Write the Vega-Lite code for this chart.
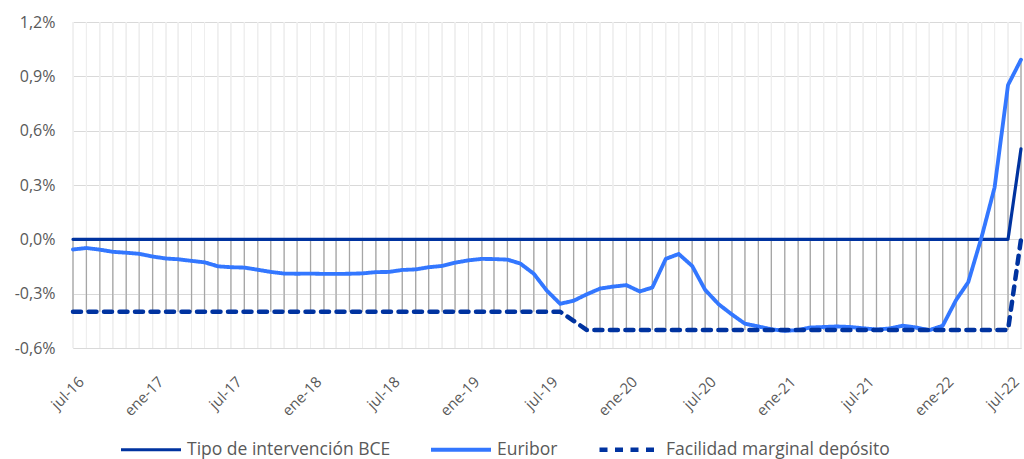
{
  "$schema": "https://vega.github.io/schema/vega-lite/v6.json",
  "width": 948,
  "height": 326,
  "autosize": {"type": "none"},
  "padding": {"left": 73, "top": 22, "right": 3, "bottom": 111},
  "background": "white",
  "config": {"view": {"stroke": null}, "font": "Open Sans"},
  "data": {
    "values": [
      {"fecha": "2016-07-01", "Tipo de intervención BCE": 0, "Euribor": -0.056, "Facilidad marginal depósito": -0.4},
      {"fecha": "2016-08-01", "Tipo de intervención BCE": 0, "Euribor": -0.048, "Facilidad marginal depósito": -0.4},
      {"fecha": "2016-09-01", "Tipo de intervención BCE": 0, "Euribor": -0.057, "Facilidad marginal depósito": -0.4},
      {"fecha": "2016-10-01", "Tipo de intervención BCE": 0, "Euribor": -0.069, "Facilidad marginal depósito": -0.4},
      {"fecha": "2016-11-01", "Tipo de intervención BCE": 0, "Euribor": -0.074, "Facilidad marginal depósito": -0.4},
      {"fecha": "2016-12-01", "Tipo de intervención BCE": 0, "Euribor": -0.080, "Facilidad marginal depósito": -0.4},
      {"fecha": "2017-01-01", "Tipo de intervención BCE": 0, "Euribor": -0.095, "Facilidad marginal depósito": -0.4},
      {"fecha": "2017-02-01", "Tipo de intervención BCE": 0, "Euribor": -0.106, "Facilidad marginal depósito": -0.4},
      {"fecha": "2017-03-01", "Tipo de intervención BCE": 0, "Euribor": -0.110, "Facilidad marginal depósito": -0.4},
      {"fecha": "2017-04-01", "Tipo de intervención BCE": 0, "Euribor": -0.119, "Facilidad marginal depósito": -0.4},
      {"fecha": "2017-05-01", "Tipo de intervención BCE": 0, "Euribor": -0.127, "Facilidad marginal depósito": -0.4},
      {"fecha": "2017-06-01", "Tipo de intervención BCE": 0, "Euribor": -0.149, "Facilidad marginal depósito": -0.4},
      {"fecha": "2017-07-01", "Tipo de intervención BCE": 0, "Euribor": -0.154, "Facilidad marginal depósito": -0.4},
      {"fecha": "2017-08-01", "Tipo de intervención BCE": 0, "Euribor": -0.156, "Facilidad marginal depósito": -0.4},
      {"fecha": "2017-09-01", "Tipo de intervención BCE": 0, "Euribor": -0.168, "Facilidad marginal depósito": -0.4},
      {"fecha": "2017-10-01", "Tipo de intervención BCE": 0, "Euribor": -0.180, "Facilidad marginal depósito": -0.4},
      {"fecha": "2017-11-01", "Tipo de intervención BCE": 0, "Euribor": -0.189, "Facilidad marginal depósito": -0.4},
      {"fecha": "2017-12-01", "Tipo de intervención BCE": 0, "Euribor": -0.190, "Facilidad marginal depósito": -0.4},
      {"fecha": "2018-01-01", "Tipo de intervención BCE": 0, "Euribor": -0.189, "Facilidad marginal depósito": -0.4},
      {"fecha": "2018-02-01", "Tipo de intervención BCE": 0, "Euribor": -0.191, "Facilidad marginal depósito": -0.4},
      {"fecha": "2018-03-01", "Tipo de intervención BCE": 0, "Euribor": -0.191, "Facilidad marginal depósito": -0.4},
      {"fecha": "2018-04-01", "Tipo de intervención BCE": 0, "Euribor": -0.190, "Facilidad marginal depósito": -0.4},
      {"fecha": "2018-05-01", "Tipo de intervención BCE": 0, "Euribor": -0.188, "Facilidad marginal depósito": -0.4},
      {"fecha": "2018-06-01", "Tipo de intervención BCE": 0, "Euribor": -0.181, "Facilidad marginal depósito": -0.4},
      {"fecha": "2018-07-01", "Tipo de intervención BCE": 0, "Euribor": -0.180, "Facilidad marginal depósito": -0.4},
      {"fecha": "2018-08-01", "Tipo de intervención BCE": 0, "Euribor": -0.169, "Facilidad marginal depósito": -0.4},
      {"fecha": "2018-09-01", "Tipo de intervención BCE": 0, "Euribor": -0.166, "Facilidad marginal depósito": -0.4},
      {"fecha": "2018-10-01", "Tipo de intervención BCE": 0, "Euribor": -0.154, "Facilidad marginal depósito": -0.4},
      {"fecha": "2018-11-01", "Tipo de intervención BCE": 0, "Euribor": -0.147, "Facilidad marginal depósito": -0.4},
      {"fecha": "2018-12-01", "Tipo de intervención BCE": 0, "Euribor": -0.129, "Facilidad marginal depósito": -0.4},
      {"fecha": "2019-01-01", "Tipo de intervención BCE": 0, "Euribor": -0.116, "Facilidad marginal depósito": -0.4},
      {"fecha": "2019-02-01", "Tipo de intervención BCE": 0, "Euribor": -0.108, "Facilidad marginal depósito": -0.4},
      {"fecha": "2019-03-01", "Tipo de intervención BCE": 0, "Euribor": -0.109, "Facilidad marginal depósito": -0.4},
      {"fecha": "2019-04-01", "Tipo de intervención BCE": 0, "Euribor": -0.112, "Facilidad marginal depósito": -0.4},
      {"fecha": "2019-05-01", "Tipo de intervención BCE": 0, "Euribor": -0.134, "Facilidad marginal depósito": -0.4},
      {"fecha": "2019-06-01", "Tipo de intervención BCE": 0, "Euribor": -0.190, "Facilidad marginal depósito": -0.4},
      {"fecha": "2019-07-01", "Tipo de intervención BCE": 0, "Euribor": -0.283, "Facilidad marginal depósito": -0.4},
      {"fecha": "2019-08-01", "Tipo de intervención BCE": 0, "Euribor": -0.356, "Facilidad marginal depósito": -0.4},
      {"fecha": "2019-09-01", "Tipo de intervención BCE": 0, "Euribor": -0.339, "Facilidad marginal depósito": -0.45},
      {"fecha": "2019-10-01", "Tipo de intervención BCE": 0, "Euribor": -0.304, "Facilidad marginal depósito": -0.5},
      {"fecha": "2019-11-01", "Tipo de intervención BCE": 0, "Euribor": -0.272, "Facilidad marginal depósito": -0.5},
      {"fecha": "2019-12-01", "Tipo de intervención BCE": 0, "Euribor": -0.261, "Facilidad marginal depósito": -0.5},
      {"fecha": "2020-01-01", "Tipo de intervención BCE": 0, "Euribor": -0.253, "Facilidad marginal depósito": -0.5},
      {"fecha": "2020-02-01", "Tipo de intervención BCE": 0, "Euribor": -0.288, "Facilidad marginal depósito": -0.5},
      {"fecha": "2020-03-01", "Tipo de intervención BCE": 0, "Euribor": -0.266, "Facilidad marginal depósito": -0.5},
      {"fecha": "2020-04-01", "Tipo de intervención BCE": 0, "Euribor": -0.108, "Facilidad marginal depósito": -0.5},
      {"fecha": "2020-05-01", "Tipo de intervención BCE": 0, "Euribor": -0.081, "Facilidad marginal depósito": -0.5},
      {"fecha": "2020-06-01", "Tipo de intervención BCE": 0, "Euribor": -0.147, "Facilidad marginal depósito": -0.5},
      {"fecha": "2020-07-01", "Tipo de intervención BCE": 0, "Euribor": -0.279, "Facilidad marginal depósito": -0.5},
      {"fecha": "2020-08-01", "Tipo de intervención BCE": 0, "Euribor": -0.358, "Facilidad marginal depósito": -0.5},
      {"fecha": "2020-09-01", "Tipo de intervención BCE": 0, "Euribor": -0.415, "Facilidad marginal depósito": -0.5},
      {"fecha": "2020-10-01", "Tipo de intervención BCE": 0, "Euribor": -0.466, "Facilidad marginal depósito": -0.5},
      {"fecha": "2020-11-01", "Tipo de intervención BCE": 0, "Euribor": -0.481, "Facilidad marginal depósito": -0.5},
      {"fecha": "2020-12-01", "Tipo de intervención BCE": 0, "Euribor": -0.497, "Facilidad marginal depósito": -0.5},
      {"fecha": "2021-01-01", "Tipo de intervención BCE": 0, "Euribor": -0.505, "Facilidad marginal depósito": -0.5},
      {"fecha": "2021-02-01", "Tipo de intervención BCE": 0, "Euribor": -0.501, "Facilidad marginal depósito": -0.5},
      {"fecha": "2021-03-01", "Tipo de intervención BCE": 0, "Euribor": -0.487, "Facilidad marginal depósito": -0.5},
      {"fecha": "2021-04-01", "Tipo de intervención BCE": 0, "Euribor": -0.484, "Facilidad marginal depósito": -0.5},
      {"fecha": "2021-05-01", "Tipo de intervención BCE": 0, "Euribor": -0.481, "Facilidad marginal depósito": -0.5},
      {"fecha": "2021-06-01", "Tipo de intervención BCE": 0, "Euribor": -0.484, "Facilidad marginal depósito": -0.5},
      {"fecha": "2021-07-01", "Tipo de intervención BCE": 0, "Euribor": -0.491, "Facilidad marginal depósito": -0.5},
      {"fecha": "2021-08-01", "Tipo de intervención BCE": 0, "Euribor": -0.498, "Facilidad marginal depósito": -0.5},
      {"fecha": "2021-09-01", "Tipo de intervención BCE": 0, "Euribor": -0.492, "Facilidad marginal depósito": -0.5},
      {"fecha": "2021-10-01", "Tipo de intervención BCE": 0, "Euribor": -0.477, "Facilidad marginal depósito": -0.5},
      {"fecha": "2021-11-01", "Tipo de intervención BCE": 0, "Euribor": -0.487, "Facilidad marginal depósito": -0.5},
      {"fecha": "2021-12-01", "Tipo de intervención BCE": 0, "Euribor": -0.502, "Facilidad marginal depósito": -0.5},
      {"fecha": "2022-01-01", "Tipo de intervención BCE": 0, "Euribor": -0.477, "Facilidad marginal depósito": -0.5},
      {"fecha": "2022-02-01", "Tipo de intervención BCE": 0, "Euribor": -0.335, "Facilidad marginal depósito": -0.5},
      {"fecha": "2022-03-01", "Tipo de intervención BCE": 0, "Euribor": -0.237, "Facilidad marginal depósito": -0.5},
      {"fecha": "2022-04-01", "Tipo de intervención BCE": 0, "Euribor": 0.013, "Facilidad marginal depósito": -0.5},
      {"fecha": "2022-05-01", "Tipo de intervención BCE": 0, "Euribor": 0.287, "Facilidad marginal depósito": -0.5},
      {"fecha": "2022-06-01", "Tipo de intervención BCE": 0, "Euribor": 0.852, "Facilidad marginal depósito": -0.5},
      {"fecha": "2022-07-01", "Tipo de intervención BCE": 0.5, "Euribor": 0.992, "Facilidad marginal depósito": 0}
    ]
  },
  "transform": [
    {"fold": ["Tipo de intervención BCE", "Euribor", "Facilidad marginal depósito"], "as": ["serie", "valor"]}
  ],
  "encoding": {
    "x": {
      "field": "fecha",
      "type": "temporal",
      "scale": {
        "type": "utc",
        "nice": false,
        "domain": [
          {"year": 2016, "month": 7, "date": 1, "utc": true},
          {"year": 2022, "month": 7, "date": 1, "utc": true}
        ]
      },
      "axis": {
        "title": null,
        "values": [
          {"year": 2016, "month": 7, "date": 1, "utc": true},
          {"year": 2017, "month": 1, "date": 1, "utc": true},
          {"year": 2017, "month": 7, "date": 1, "utc": true},
          {"year": 2018, "month": 1, "date": 1, "utc": true},
          {"year": 2018, "month": 7, "date": 1, "utc": true},
          {"year": 2019, "month": 1, "date": 1, "utc": true},
          {"year": 2019, "month": 7, "date": 1, "utc": true},
          {"year": 2020, "month": 1, "date": 1, "utc": true},
          {"year": 2020, "month": 7, "date": 1, "utc": true},
          {"year": 2021, "month": 1, "date": 1, "utc": true},
          {"year": 2021, "month": 7, "date": 1, "utc": true},
          {"year": 2022, "month": 1, "date": 1, "utc": true},
          {"year": 2022, "month": 7, "date": 1, "utc": true}
        ],
        "labelExpr": "(utcFormat(datum.value, '%m') == '01' ? 'ene-' : 'jul-') + utcFormat(datum.value, '%y')",
        "labelAngle": -45,
        "labelFontSize": 15,
        "labelColor": "#595959",
        "labelPadding": 26,
        "labelOffset": {"condition": {"test": "datum.value >= utc(2022, 5, 1)", "value": -10}, "value": 3},
        "labelOverlap": false,
        "labelFlush": false,
        "labelBound": false,
        "ticks": false,
        "grid": false,
        "domainColor": "#D9D9D9",
        "domainWidth": 1
      }
    }
  },
  "layer": [
    {
      "mark": {"type": "rule", "color": "#EEEEEE", "strokeWidth": 1},
      "encoding": {}
    },
    {
      "transform": [
        {"aggregate": [{"op": "min", "field": "valor", "as": "bajo"}, {"op": "max", "field": "valor", "as": "alto"}], "groupby": ["fecha"]}
      ],
      "mark": {"type": "rule", "color": "#A6A6A6", "strokeWidth": 1.3},
      "encoding": {
        "y": {
          "field": "bajo",
          "type": "quantitative",
          "scale": {"domain": [-0.6, 1.2], "nice": false, "zero": false},
          "axis": {
            "title": null,
            "values": [-0.6, -0.3, 0, 0.3, 0.6, 0.9, 1.2],
            "labelExpr": "replace(replace(format(datum.value, '.1f'), '.', ','), '\u2212', '-') + '%'",
            "domain": false,
            "ticks": false,
            "gridColor": "#D9D9D9",
            "gridWidth": 1,
            "labelFontSize": 16,
            "labelColor": "#595959",
            "labelPadding": 18
          }
        },
        "y2": {"field": "alto"}
      }
    },
    {
      "mark": {"type": "line", "strokeCap": "round", "strokeJoin": "round"},
      "encoding": {
        "y": {
          "field": "valor",
          "type": "quantitative",
          "scale": {"domain": [-0.6, 1.2], "nice": false, "zero": false},
          "axis": {
            "title": null,
            "values": [-0.6, -0.3, 0, 0.3, 0.6, 0.9, 1.2],
            "labelExpr": "replace(replace(format(datum.value, '.1f'), '.', ','), '\u2212', '-') + '%'",
            "domain": false,
            "ticks": false,
            "gridColor": "#D9D9D9",
            "gridWidth": 1,
            "labelFontSize": 16,
            "labelColor": "#595959",
            "labelPadding": 18
          }
        },
        "color": {
          "field": "serie",
          "type": "nominal",
          "scale": {
            "domain": ["Tipo de intervención BCE", "Euribor", "Facilidad marginal depósito"],
            "range": ["#0033A0", "#3377FF", "#0033A0"]
          },
          "legend": {
            "orient": "none",
            "legendX": 46,
            "legendY": 395,
            "direction": "horizontal",
            "title": null,
            "symbolType": "stroke",
            "symbolSize": 3600,
            "symbolStrokeWidth": 4,
            "labelFontSize": 17.5,
            "labelColor": "#595959",
            "labelLimit": 400,
            "labelOffset": 4,
            "columnPadding": 32
          }
        },
        "strokeDash": {
          "field": "serie",
          "type": "nominal",
          "scale": {
            "domain": ["Tipo de intervención BCE", "Euribor", "Facilidad marginal depósito"],
            "range": [[1, 0], [1, 0], [8, 7.5]]
          }
        },
        "strokeWidth": {
          "field": "serie",
          "type": "nominal",
          "scale": {
            "domain": ["Tipo de intervención BCE", "Euribor", "Facilidad marginal depósito"],
            "range": [3.2, 4.5, 3.2]
          },
          "legend": null
        }
      }
    }
  ]
}
